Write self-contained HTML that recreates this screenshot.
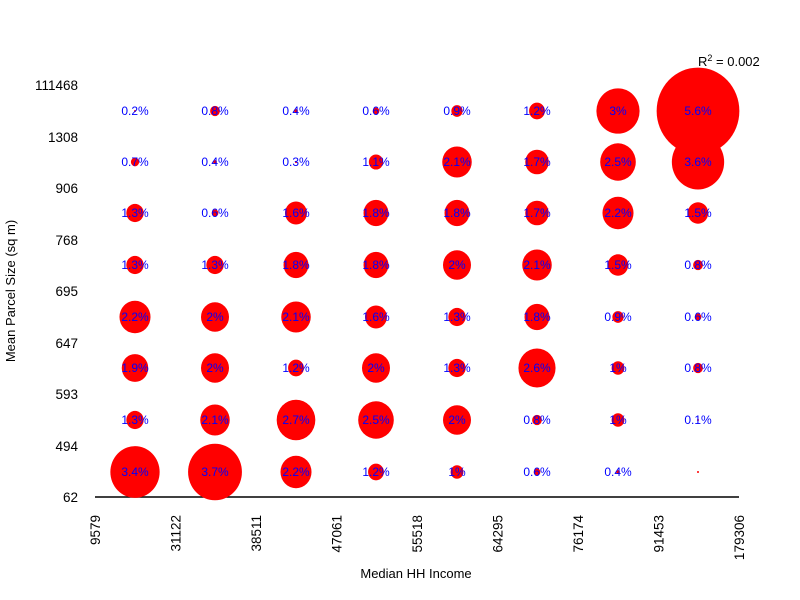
<!DOCTYPE html>
<html><head><style>body{margin:0;background:#fff}svg{display:block;font-family:"Liberation Sans",sans-serif}</style></head>
<body>
<svg id="s" width="800" height="600" xmlns="http://www.w3.org/2000/svg">
<rect width="800" height="600" fill="#fff"/>
<line x1="95" y1="497" x2="739" y2="497" stroke="#000" stroke-width="1.5"/>
<g font-size="13.5" text-anchor="end" fill="#000">
<text x="78" y="90">111468</text><text x="78" y="142">1308</text><text x="78" y="193">906</text>
<text x="78" y="245">768</text><text x="78" y="296">695</text><text x="78" y="348">647</text>
<text x="78" y="399">593</text><text x="78" y="451">494</text><text x="78" y="502">62</text>
</g>
<g font-size="13.5" text-anchor="end" fill="#000" id="xl"></g>
<text x="416" y="578" font-size="13" text-anchor="middle">Median HH Income</text>
<text transform="translate(15,291) rotate(-90)" font-size="13" text-anchor="middle">Mean Parcel Size (sq m)</text>
<text x="698" y="66" font-size="13">R<tspan dy="-5" font-size="9">2</tspan><tspan dy="5"> = 0.002</tspan></text>
<g id="b"></g>
</svg>
<script>
var xs=[135,215,296,376,457,537,618,698],ys=[111,162,213,265,317,368,420,472];
var d=[[0.2,0.8,0.4,0.6,0.9,1.2,3,5.6],[0.7,0.4,0.3,1.1,2.1,1.7,2.5,3.6],[1.3,0.6,1.6,1.8,1.8,1.7,2.2,1.5],[1.3,1.3,1.8,1.8,2,2.1,1.5,0.8],[2.2,2,2.1,1.6,1.3,1.8,0.9,0.6],[1.9,2,1.2,2,1.3,2.6,1,0.8],[1.3,2.1,2.7,2.5,2,0.8,1,0.1],[3.4,3.7,2.2,1.2,1,0.6,0.4,0]];
var h='',t='';
for(var r=0;r<8;r++)for(var c=0;c<8;c++){var v=d[r][c],rx=Math.max(7.6*v-1.2,1);
h+='<ellipse cx="'+xs[c]+'" cy="'+ys[r]+'" rx="'+rx+'" ry="'+(rx*1.05)+'" fill="#f00"/>';
if(v>0)t+='<text x="'+xs[c]+'" y="'+(ys[r]+4)+'" font-size="12" fill="#00f" text-anchor="middle">'+v+'%</text>';}
document.getElementById('b').innerHTML=h+t;
var xl=['9579','31122','38511','47061','55518','64295','76174','91453','179306'],s='';
for(var i=0;i<9;i++){var x=95+i*80.5+5;s+='<text transform="translate('+x+',515) rotate(-90)">'+xl[i]+'</text>';}
document.getElementById('xl').innerHTML=s;
</script>
</body></html>
